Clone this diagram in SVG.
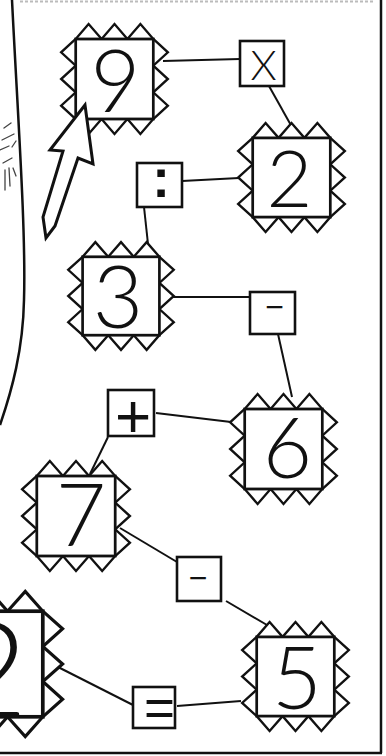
<svg xmlns="http://www.w3.org/2000/svg" xmlns:xlink="http://www.w3.org/1999/xlink" width="386" height="756" viewBox="0 0 386 756">
<style>
.bg{fill:#fff}
.frame{fill:none;stroke:#111;stroke-width:2.5}
.edge{fill:none;stroke:#111;stroke-width:2}
.op{fill:#fff;stroke:#111;stroke-width:2.6}
.dig{font-family:"Lato","Liberation Sans",sans-serif;font-weight:300;fill:#111;text-anchor:middle}
.sym{font-family:"Liberation Sans",Arial,sans-serif;fill:#111;text-anchor:middle}
.scrib{fill:none;stroke:#444;stroke-width:1.3;stroke-linecap:round}
</style>
<defs>
<g id="stamp">
<path d="M-40,-40 L-26.7,-55 L-13.3,-40 L0,-55 L13.3,-40 L26.7,-55 L40,-40 L55,-26.7 L40,-13.3 L55,0 L40,13.3 L55,26.7 L40,40 L26.7,55 L13.3,40 L0,55 L-13.3,40 L-26.7,55 L-40,40 L-55,26.7 L-40,13.3 L-55,0 L-40,-13.3 L-55,-26.7 Z" fill="#fff" stroke="#111" stroke-width="2.4" stroke-linejoin="miter"/>
<rect x="-40" y="-40" width="80" height="80" fill="#fff" stroke="#111" stroke-width="2.8"/>
</g>
</defs>
<rect class="bg" x="0" y="0" width="386" height="756"/>
<g id="frame">
<line x1="20" y1="1.5" x2="375" y2="1.5" stroke="#bbb" stroke-width="2" stroke-dasharray="3 2"/>
<path class="frame" d="M12,0 C18,120 26,230 24,300 C23,350 12,390 0,425"/>
<line class="frame" x1="381" y1="0" x2="381" y2="753"/>
<line class="frame" x1="0" y1="753" x2="382" y2="753"/>
<path class="scrib" d="M4,128 L11,123 M2,140 L14,134 M0,150 L9,146 M12,147 L16,141 M3,163 L12,158 M5,170 L5,190 M9,168 L10,186 M13,168 L16,176"/>
</g>
<g id="connectors">
<line class="edge" x1="163" y1="61" x2="240" y2="59"/>
<line class="edge" x1="269" y1="86" x2="297" y2="136"/>
<line class="edge" x1="182" y1="181" x2="239" y2="178"/>
<line class="edge" x1="144" y1="207" x2="148" y2="244"/>
<line class="edge" x1="172" y1="297" x2="250" y2="297"/>
<line class="edge" x1="278" y1="334" x2="292" y2="397"/>
<line class="edge" x1="156" y1="413" x2="231" y2="422"/>
<line class="edge" x1="108" y1="437" x2="90" y2="474"/>
<line class="edge" x1="120" y1="528" x2="177" y2="562"/>
<line class="edge" x1="226" y1="601" x2="267" y2="625"/>
<line class="edge" x1="58" y1="667" x2="133" y2="705"/>
<line class="edge" x1="177" y1="706" x2="241" y2="701"/>
</g>
<g id="n9">
<use xlink:href="#stamp" transform="translate(114.5,79) scale(0.97,1)"/>
<text class="dig" x="115.5" y="112" font-size="86">9</text>
</g>
<g id="n2">
<use xlink:href="#stamp" transform="translate(291.5,177.5) scale(0.97,0.99)"/>
<text class="dig" x="289.5" y="207" font-size="79">2</text>
</g>
<g id="n3">
<use xlink:href="#stamp" transform="translate(121,296) scale(0.96,0.98)"/>
<text class="dig" x="118" y="328" font-size="87">3</text>
</g>
<g id="n6">
<use xlink:href="#stamp" transform="translate(283.5,449) scale(0.97,1)"/>
<text class="dig" x="287.5" y="478" font-size="85">6</text>
</g>
<g id="n7">
<use xlink:href="#stamp" transform="translate(76,516) scale(0.98,1)"/>
<text class="dig" x="81" y="546" font-size="87">7</text>
</g>
<g id="n5">
<use xlink:href="#stamp" transform="translate(295.5,676.5) scale(0.97,0.99)"/>
<text class="dig" x="297" y="709" font-size="86">5</text>
</g>
<g id="n2b">
<use xlink:href="#stamp" transform="translate(-10,664) scale(1.32)"/>
<text class="dig" x="-11" y="718" font-size="135" font-weight="400">2</text>
</g>
<g id="opX">
<rect class="op" x="240" y="41" width="44" height="45"/>
<text class="dig" x="263.5" y="80" font-size="42">X</text>
</g>
<g id="opDiv">
<rect class="op" x="137" y="163" width="45" height="44"/>
<text class="sym" x="161" y="197" font-size="53" font-weight="bold">:</text>
</g>
<g id="opMinus1">
<rect class="op" x="250" y="292" width="45" height="42"/>
<text class="sym" x="274.5" y="318" font-size="32">−</text>
</g>
<g id="opPlus">
<rect class="op" x="108" y="390" width="46" height="46"/>
<text class="sym" x="133" y="437" font-size="62">+</text>
</g>
<g id="opMinus2">
<rect class="op" x="177" y="557" width="44" height="44"/>
<text class="sym" x="198" y="589" font-size="32">−</text>
</g>
<g id="opEq">
<rect class="op" x="133" y="687" width="42" height="41"/>
<text class="sym" x="159.5" y="726" font-size="53">=</text>
</g>
<g id="arrow">
<polygon points="85,105 50,150 63,151 43,217 46,238 55,226 78,158 93,164" fill="#fff" stroke="#111" stroke-width="3" stroke-linejoin="miter"/>
</g>
</svg>
